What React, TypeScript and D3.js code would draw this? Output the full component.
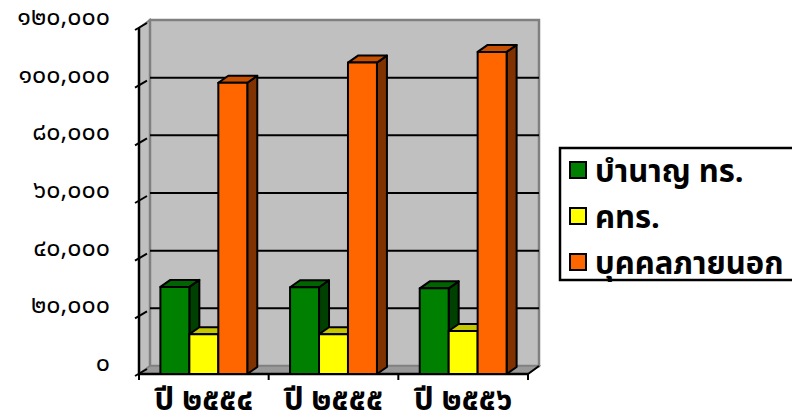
import React from "react";
import * as d3 from "d3";

// Categories, series and their values
const categories = ["ปี ๒๕๕๔", "ปี ๒๕๕๕", "ปี ๒๕๕๖"];
const seriesNames = ["บำนาญ ทร.", "คทร.", "บุคคลภายนอก"];
const seriesColors = ["#008000", "#ffff00", "#ff6600"];
const pensionValues = [30200, 30100, 29700];
const kthrValues = [13800, 13800, 14900];
const outsiderValues = [101000, 108000, 111700];
const seriesValues = [pensionValues, kthrValues, outsiderValues];
const yTicks = [0, 20000, 40000, 60000, 80000, 100000, 120000];

const W = 792;
const H = 418;
const thaiDigits = "๐๑๒๓๔๕๖๗๘๙";
const toThai = (s: string) => s.replace(/[0-9]/g, (d) => thaiDigits[+d]);
const fmt = d3.format(",");

const FONT = "Tahoma, 'Noto Sans Thai', 'Noto Sans', 'DejaVu Sans', sans-serif";

export default function App() {
  const left = 139;
  const right = 528;
  const bottom = 374;
  const top = 28;
  const wallDx = 11;
  const wallDy = 8;
  const barDx = 10;
  const barDy = 7;

  const y = d3.scaleLinear().domain([0, 120000]).range([bottom, top]);
  const x0 = d3
    .scaleBand<string>()
    .domain(categories)
    .range([left, right])
    .paddingInner(0.33)
    .paddingOuter(0.165);
  const x1 = d3
    .scaleBand<number>()
    .domain(d3.range(seriesNames.length))
    .range([0, x0.bandwidth()]);

  const shade = (c: string, k: number) => {
    const col = d3.rgb(c);
    return d3.rgb(col.r * k, col.g * k, col.b * k).formatHex();
  };

  // category boundaries for the x-axis tick marks
  const step = x0.step();
  const boundaries = d3.range(categories.length + 1).map((i) => left + i * step);

  const bx = left + wallDx;
  const by = bottom - wallDy;
  const ty = top - wallDy;
  const rx = right + wallDx;

  return (
    <svg
      width={W}
      height={H}
      style={{ position: "absolute", left: 0, top: 0, background: "#fff" }}
      fontFamily={FONT}
    >
      {/* side wall */}
      <polygon
        points={`${left},${top} ${bx},${ty} ${bx},${by} ${left},${bottom}`}
        fill="#c0c0c0"
        stroke="#808080"
        strokeWidth={2}
      />
      {/* back wall */}
      <rect
        x={bx}
        y={ty}
        width={rx - bx}
        height={by - ty}
        fill="#c0c0c0"
        stroke="#808080"
        strokeWidth={2.5}
      />
      {/* floor */}
      <polygon
        points={`${left},${bottom} ${bx},${by} ${rx},${by} ${right},${bottom}`}
        fill="#999999"
        stroke="#808080"
        strokeWidth={1.5}
      />
      {/* gridlines on the back wall */}
      {yTicks
        .filter((t) => t > 0 && t < 120000)
        .map((t) => (
          <line
            key={`g${t}`}
            x1={bx}
            x2={rx}
            y1={y(t) - wallDy}
            y2={y(t) - wallDy}
            stroke="#000"
            strokeWidth={2}
          />
        ))}
      {/* value axis */}
      <line x1={left} x2={left} y1={top} y2={bottom} stroke="#000" strokeWidth={2.5} />
      {yTicks.map((t) => (
        <line
          key={`t${t}`}
          x1={left - 4}
          y1={y(t) + 2}
          x2={left + 8}
          y2={y(t) - 5}
          stroke="#000"
          strokeWidth={2}
        />
      ))}
      {yTicks.map((t) => (
        <text
          key={`l${t}`}
          x={110}
          y={y(t) - 3}
          textAnchor="end"
          fontSize={25}
          fill="#000"
        >
          {toThai(fmt(t))}
        </text>
      ))}
      {/* category axis */}
      <line x1={left} x2={right} y1={bottom} y2={bottom} stroke="#000" strokeWidth={2.5} />
      <line x1={right} y1={bottom} x2={rx} y2={by} stroke="#000" strokeWidth={2} />
      {boundaries.map((bxv, i) => (
        <line key={`xb${i}`} x1={bxv} x2={bxv} y1={bottom} y2={bottom + 6} stroke="#000" strokeWidth={2} />
      ))}
      {categories.map((c) => (
        <text
          key={c}
          x={(x0(c) as number) + x0.bandwidth() / 2}
          y={410}
          textAnchor="middle"
          fontSize={31}
          fontWeight="bold"
          fill="#000"
        >
          {c}
        </text>
      ))}
      {/* bars */}
      {categories.map((c, ci) =>
        seriesNames.map((s, si) => {
          const v = seriesValues[si][ci];
          const xl = (x0(c) as number) + (x1(si) as number);
          const xr = xl + x1.bandwidth();
          const yt = y(v);
          const col = seriesColors[si];
          return (
            <g key={`${c}-${s}`} stroke="#000" strokeWidth={2} strokeLinejoin="round">
              <polygon
                points={`${xr},${yt} ${xr + barDx},${yt - barDy} ${xr + barDx},${bottom - barDy} ${xr},${bottom}`}
                fill={shade(col, 0.5)}
              />
              <polygon
                points={`${xl},${yt} ${xl + barDx},${yt - barDy} ${xr + barDx},${yt - barDy} ${xr},${yt}`}
                fill={shade(col, 0.78)}
              />
              <rect x={xl} y={yt} width={xr - xl} height={bottom - yt} fill={col} />
            </g>
          );
        })
      )}
      {/* legend */}
      <rect x={560} y={148} width={260} height={132} fill="#fff" stroke="#000" strokeWidth={2.5} />
      {seriesNames.map((s, i) => (
        <g key={s} transform={`translate(0, ${i * 46})`}>
          <rect x={570} y={162} width={16} height={16} fill={seriesColors[i]} stroke="#000" strokeWidth={2} />
          <text x={595} y={182} fontSize={31} fontWeight="bold" fill="#000">
            {s}
          </text>
        </g>
      ))}
    </svg>
  );
}
